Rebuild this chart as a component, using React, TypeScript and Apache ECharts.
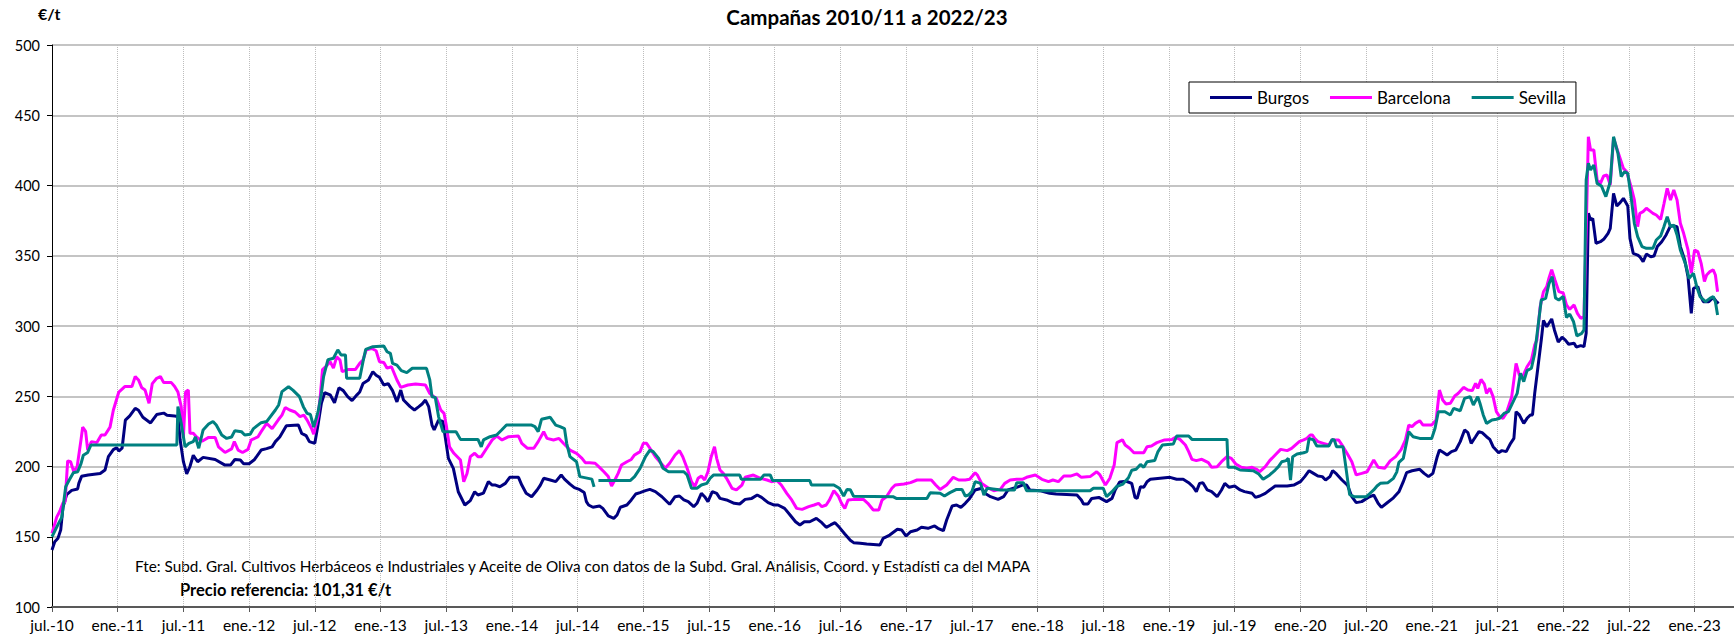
import React, { useEffect, useRef } from "react";
import * as echarts from "echarts";

// x = months since July 2010, y = €/t
const burgos: [number, number][] = [
  [0,140.6],[0.25,146.5],[0.55,149],[0.8,155],[1.0,171],[1.34,180],[1.8,183],[2.34,184],[2.45,188],[2.7,193],[3.3,194],[4.4,195],[4.84,197.5],[5.15,207],[5.6,212],[5.9,213.4],[6.1,211],[6.4,213],[6.7,233],[7.1,236],[7.6,241.4],[7.9,240],[8.3,235],[9.0,231],[9.56,237],[10.2,238],[10.5,236.4],[11.2,236],[11.5,235.5],[11.7,219],[12.0,203.4],[12.3,194.7],[12.6,200],[12.9,208],[13.3,203.4],[13.8,206.5],[14.9,205],[15.8,201],[16.3,201],[16.7,205],[17.2,204.6],[17.5,202],[18.0,202],[18.5,205],[19.1,211.7],[19.6,212.7],[20.1,214],[20.4,217.7],[20.8,221],[21.4,229],[22.5,229.5],[22.8,223.6],[23.2,222],[23.5,217.7],[24.0,216.5],
  [24.3,230],[24.6,245],[24.9,252.5],[25.4,251],[25.8,245.4],[26.2,256],[26.6,254],[27.0,249.7],[27.4,246.9],[27.85,251],[28.1,253],[28.4,259],[28.9,261.6],[29.3,267.5],[29.6,265],[29.9,263.5],[30.3,258],[30.7,259],[31.1,254],[31.5,246],[31.85,254.4],[32.1,247.3],[32.7,242.6],[33.1,240.2],[33.5,242.6],[33.8,244.5],[34.1,247.3],[34.4,242.6],[34.7,229.5],[34.9,226],[35.3,233],[35.7,232],[36.2,205.8],[36.65,198.7],[37.1,182],[37.7,172.6],[38.2,175.7],[38.6,182],[38.9,179.7],[39.4,181],[39.85,189.2],[40.2,186.8],[40.5,186.8],[40.9,185.6],[41.4,188],[41.8,192.3],[42.6,192.3],[42.9,186.8],[43.3,181],[43.8,178.5],[44.3,183.3],[44.6,186.8],[44.9,191.6],[45.5,190.4],[46.0,189.2],[46.5,194],[46.8,191],[47.3,187.5],[47.7,185],[48.2,183.5],[48.6,181.5],
  [48.8,175],[49.0,172.6],[49.4,171],[50.0,171.9],[50.3,170.2],[50.8,164.8],[51.3,163.1],[51.6,165.5],[51.9,171],[52.5,172.6],[52.9,176.2],[53.3,180.4],[53.7,181.4],[54.2,182.8],[54.6,183.7],[55.1,182.1],[55.7,178.5],[56.4,173.1],[56.9,178.5],[57.3,179],[57.7,176.2],[58.1,175],[58.6,171.4],[58.9,173.8],[59.3,180.9],[59.6,178.5],[59.9,175],[60.3,182.1],[60.7,180.9],[61.0,177.3],[61.6,176.2],[62.3,173.8],[62.8,173.3],[63.3,176.6],[63.9,177.3],[64.4,179.7],[64.8,178],[65.4,174.3],[65.9,172.6],[66.3,172.6],[66.9,170.2],[67.4,165.5],[67.9,160.7],[68.3,158.4],[68.7,160.7],[69.2,160.7],[69.8,163.1],[70.3,160],[70.7,156.7],[71.1,158.4],[71.5,160],[71.9,156.7],[72.4,152],[72.9,147.5],[73.2,145.8],[73.8,145.3],[74.4,144.8],[75.6,144.1],
  [75.9,148.9],[76.5,151.2],[77.2,155.3],[77.6,154.8],[78.0,150.5],[78.4,153.6],[79.0,154.8],[79.4,156.7],[80.0,156],[80.6,157.7],[80.9,156],[81.4,154.3],[81.7,161.9],[82.2,171.9],[82.6,172.6],[83.0,170.9],[83.4,173.8],[83.8,177.3],[84.3,183.3],[84.9,184.5],[85.2,180.9],[85.7,178.5],[86.4,176.6],[86.9,178.5],[87.3,183.3],[88.1,185.2],[88.6,186.8],[89.0,186.8],[89.3,183.3],[90.2,182.8],[91.1,180.9],[91.7,180.4],[93.6,179.7],[94.0,176.2],[94.2,173.3],[94.6,173.3],[94.95,177.3],[95.6,178],[96.3,175],[96.8,177.3],
  [97.1,183.5],[97.5,189],[98.1,189.5],[98.6,188],[98.9,178],[99.1,177.3],[99.4,185.6],[99.7,185.2],[100.0,189.2],[100.3,190.9],[101.2,191.6],[102.1,192.3],[102.7,190.9],[103.3,190.9],[103.8,188.5],[104.2,185.6],[104.5,182.1],[104.8,188],[105.1,188.5],[105.5,183.3],[105.9,182.1],[106.4,178.5],[106.8,183.3],[107.1,188],[107.5,185.2],[108.0,186.1],[108.5,183.3],[108.9,182.1],[109.6,180.9],[109.9,178],[110.3,179],[110.8,180.9],[111.2,183.3],[111.7,186.1],[112.8,186.1],[113.4,186.8],[114.0,189.2],[114.4,192.8],[114.8,197],[115.2,195.1],[115.6,193.2],[116.0,192.8],[116.3,190.4],[116.7,192.8],[116.95,197],[117.3,194.7],[117.8,190.4],[118.3,186.8],[118.7,178.5],[119.1,174.3],[119.6,175],[120.2,178],[120.7,179.7],[121.1,173.8],[121.4,170.9],
  [121.9,174],[122.5,177.7],[123.0,182],[123.4,189.2],[123.7,195.6],[124.2,197],[124.9,198],[125.3,195.1],[125.7,192.8],[126.1,195.1],[126.5,207],[126.7,211.7],[127.1,209.8],[127.4,208.2],[127.8,210.6],[128.2,211.7],[128.6,217.7],[129.0,226],[129.3,224.1],[129.6,216.5],[130.0,221.2],[130.3,224.8],[130.6,224.1],[131.0,221.2],[131.3,219.3],[131.6,214.1],[132.1,209.8],[132.4,211.3],[132.8,210.6],[133.2,216.5],[133.5,220],[133.7,239],[134.0,236.7],[134.4,230.7],[134.7,234.3],[135.0,236.7],[135.2,236.7],[135.4,252],[135.7,271],[136.0,290],
  [136.2,304],[136.5,299.5],[136.95,305],[137.2,297.2],[137.55,288.5],[137.9,292],[138.2,290],[138.5,287],[139.0,287.7],[139.2,285],[139.6,286],[139.9,285.3],[140.1,294.8],[140.3,380.2],[140.5,375.4],[140.7,376.6],[141.0,358.8],[141.4,360],[141.7,361.7],[142.1,366],[142.3,369.5],[142.6,394.4],[142.9,385.4],[143.2,387.8],[143.5,390.9],[143.9,385.4],[144.1,362.4],[144.4,351.7],[144.8,350.5],[145.0,349.3],[145.3,345.8],[145.6,351.2],[146.0,349.3],[146.3,349.8],[146.6,356.5],[147.0,360],[147.4,364.8],[147.8,371.2],[148.1,371.2],[148.4,370.7],[148.7,356.5],[149.1,347],[149.4,335.1],[149.7,309],[149.9,326.8],[150.3,328],[150.5,322.1],[150.8,317.3],[151.3,317.3],[151.7,320.4],[152.0,317.3],[152.2,316.1]
];

const barcelona: [number, number][] = [
  [0,152.4],[0.43,164],[0.7,168],[1.0,174],[1.2,175],[1.43,204],[1.7,203.4],[2.0,196],[2.3,200],[2.65,219],[2.8,228],[3.07,225],[3.26,211.7],[3.6,217.7],[4.1,217],[4.5,222.4],[4.84,222.4],[5.3,228],[5.6,240],[6.1,253],[6.67,257],[7.3,257],[7.6,264],[7.9,261.6],[8.2,256],[8.5,254.4],[8.86,245],[9.16,259],[9.56,262.8],[9.9,264],[10.2,259.7],[10.9,259.7],[11.2,257],[11.5,253],[11.8,242.6],[12.0,221],[12.2,253],[12.45,254.4],[12.6,223.6],[12.9,223.6],[13.2,221],[13.7,218],[14.3,220.7],[14.9,220.7],[15.2,214],[15.8,210],[16.4,212.5],[16.65,217.7],[17.0,211.7],[17.4,210],[17.9,212.2],[18.2,219],[18.8,221],[19.1,224.8],[19.6,230.7],[20.1,227],[20.7,233.6],[21.0,236.6],[21.3,242],[21.7,240.2],[22.2,238.8],[22.65,235.5],[23.0,236.6],[23.3,233],[23.7,227],[23.9,223],
  [24.3,236],[24.5,250],[24.7,269],[25.0,271],[25.4,274.6],[25.7,270],[26.0,278],[26.3,275.8],[26.5,267.5],[27.0,269],[27.7,269],[28.1,273.4],[28.4,275.8],[28.7,283],[29.2,284],[29.6,282.4],[29.9,274.6],[30.3,274],[30.6,270],[31.0,271],[31.5,261.6],[31.85,256.3],[32.5,258],[33.2,258.7],[34.1,258],[34.5,252],[34.8,250],[35.1,248.5],[35.5,240.2],[35.8,237.8],[36.0,229.5],[36.3,214],[36.7,209.4],[37.3,204.6],[37.6,189.2],[37.9,195],[38.2,207],[38.6,209.4],[38.9,207],[39.2,207],[39.7,213],[40.2,218.9],[40.6,221.7],[41.1,218.9],[41.7,221.2],[42.6,221.7],[42.9,216.5],[43.4,213],[44.0,213],[44.4,217.7],[44.9,224.8],[45.2,220],[45.8,218.9],[46.3,220],[46.7,216.5],[47.3,211.7],[47.9,209.4],[48.4,205.8],[48.7,202.7],
  [49.1,202.7],[49.6,202.3],[50.0,199.4],[50.4,196.3],[50.8,192.8],[51.1,186.1],[51.4,190.4],[51.7,195.1],[52.0,201],[52.5,203.4],[52.9,205],[53.2,208.2],[53.7,210.6],[54.0,216.5],[54.3,216.5],[54.6,213],[55.1,207],[55.5,203.4],[56.0,198.7],[56.4,202.3],[56.9,208.2],[57.3,211.3],[57.6,207],[58.0,198.7],[58.4,189.2],[58.7,185.6],[59.0,191.6],[59.3,193.2],[59.6,190.4],[59.9,196.3],[60.2,207],[60.5,214.1],[60.7,205.8],[61.0,197.5],[61.3,195.1],[61.6,191.6],[62.1,184.5],[62.5,183.3],[63.0,186.8],[63.3,192.3],[64.05,193.9],[64.7,191.6],[65.3,190.4],[65.7,189.2],[66.2,190],[66.6,186.8],[67.1,180.9],[67.55,176.2],[68.0,170.2],[68.5,169.5],[69.1,171.4],[69.6,172.6],[70.0,173.8],[70.3,171.4],[70.7,172.6],[71.0,176.2],[71.4,182.8],[71.8,179],[72.1,173.8],[72.4,170.2],[72.7,176.2],
  [73.3,176.6],[74.1,176.6],[74.5,173.8],[75.0,169],[75.5,169],[75.8,176.2],[76.2,178.5],[76.7,184.5],[77.0,186.8],[77.8,187.5],[78.4,188.5],[79.0,190.4],[80.3,190.4],[80.7,186.8],[81.1,183.7],[81.7,186.8],[82.3,192.3],[82.8,190.4],[83.4,190.4],[83.8,190.9],[84.3,195.6],[84.5,194],[84.9,188],[85.4,185.2],[86.0,182.8],[86.6,183.7],[87.0,188],[87.5,190.4],[88.1,190.9],[88.6,190.9],[89.0,192.3],[89.8,194],[90.4,190.9],[91.0,189.2],[91.4,190.4],[91.9,189.2],[92.4,193.2],[93.0,193.2],[93.6,194.7],[94.0,192.3],[94.8,192.8],[95.4,196.3],[95.7,194],[96.2,186.8],[96.6,191.6],
  [97.0,201],[97.25,217],[97.75,219],[98.0,215.3],[98.4,213],[98.8,209.8],[99.7,209.8],[100.0,214.1],[100.4,214.6],[100.9,217],[101.6,218.9],[102.3,219.3],[102.6,220.8],[103.0,219.3],[103.5,215.3],[103.8,210.6],[104.1,205.1],[104.5,204.2],[105.0,205.1],[105.6,202.7],[105.9,199.4],[106.4,199.9],[106.8,203.4],[107.3,207],[107.7,205.8],[108.1,201.8],[108.6,199.4],[109.1,198.7],[109.6,199.4],[110.0,198],[110.3,196.3],[110.8,199.9],[111.2,204.2],[111.7,208.2],[112.2,212.2],[112.8,211.3],[113.2,212.9],[113.9,217.7],[114.3,218.9],[114.6,220],[114.9,222.4],[115.1,222.4],[115.3,220],[115.6,217.7],[116.1,216.5],[116.6,215.3],[116.9,218.9],[117.5,218.9],[117.9,214.1],[118.3,208.9],[118.7,203.4],[119.1,194],[119.6,195.1],[120.1,196.3],[120.7,204.6],[121.1,199.4],[121.7,198.7],
  [122.2,204],[122.7,207],[123.2,212],[123.6,218.9],[123.9,229.5],[124.2,228.4],[124.5,230.7],[124.9,232.6],[125.2,229.5],[126.0,229.5],[126.4,233.1],[126.7,254.4],[127.0,247.3],[127.3,244.5],[127.7,245],[128.1,250.2],[128.4,252],[128.9,256.3],[129.3,254.4],[129.7,254],[130.0,259.2],[130.2,255.6],[130.5,262],[130.8,258.7],[131.0,252],[131.3,255.6],[131.6,249.7],[131.9,239],[132.2,235.5],[132.5,234.3],[132.8,237.8],[133.3,249.7],[133.7,273.4],[134.0,265.1],[134.3,264],[134.7,271],[135.1,275.8],[135.4,286.5],[135.6,290],[135.9,313.8],[136.2,324.4],[136.5,328],[136.7,334],[136.95,340],[137.25,332.7],[137.6,324.5],[138.0,323.5],[138.3,315],[138.6,311.9],[139.0,315],[139.3,309],[139.6,305.5],[139.9,306.6],
  [140.1,366],[140.3,434.7],[140.5,425.3],[140.8,425.3],[141.1,403.9],[141.4,401.5],[141.7,406.8],[142.0,407.5],[142.3,400.4],[142.6,433.6],[143.0,424.1],[143.3,417],[143.5,412.2],[143.8,409.8],[144.2,399.2],[144.5,389.7],[144.8,370.7],[145.0,380.2],[145.3,381.4],[145.6,383.8],[146.0,381.4],[146.2,380.2],[146.5,379],[146.9,375.9],[147.2,386.8],[147.5,398],[147.8,389.7],[148.1,396.8],[148.4,389.7],[148.7,373.1],[149.0,366],[149.4,354.1],[149.7,337.5],[150.0,354.1],[150.3,352.9],[150.6,344.6],[150.9,331.6],[151.1,336.3],[151.4,338.7],[151.7,339.9],[151.9,336.3],[152.1,324.4]
];

const sevilla: [number, number | string][] = [
  [0,150],[0.6,159.5],[0.9,164],[1.25,185.6],[1.55,190],[1.95,195.6],[2.35,196.3],[2.65,202],[2.86,208],[3.26,210],[3.56,215.3],[11.4,215.3],[11.5,242.6],[11.8,230.7],[12.15,214],[12.5,216.5],[12.9,217.7],[13.1,221],[13.4,213],[13.8,226],[14.3,230.2],[14.7,232],[15.0,229.5],[15.5,222.4],[15.95,220],[16.4,221],[16.7,225.5],[17.3,224.8],[17.6,222.4],[18.1,223],[18.4,227],[19.1,231.2],[19.6,232],[20.4,240.2],[20.7,243.8],[21.0,253.3],[21.6,256.8],[22.0,254.4],[22.6,249.7],[22.95,242.6],[23.3,237.8],[23.6,237],[23.9,228],
  [24.3,239],[24.6,252],[24.8,264],[25.0,270],[25.2,276],[25.7,277],[26.1,283],[26.4,279.4],[26.8,279.4],[26.9,262.8],[28.1,262.8],[28.4,274.6],[28.65,283.4],[29.3,285.3],[30.3,285.8],[30.6,281.7],[30.9,280.5],[31.1,273.4],[31.5,272.2],[31.9,268.2],[32.4,266.8],[32.9,269.9],[34.2,269.9],[34.5,261.6],[34.7,249.7],[35.0,249.2],[35.3,235.5],[35.7,224.8],[36.9,224.8],[37.3,219.3],[38.9,219.3],[39.2,214],[39.4,218.9],[40.0,221.2],[40.6,222.4],[41.06,226],[41.5,229.5],[43.8,229.5],[44.1,228.4],[44.4,224.8],[44.7,233.6],[45.5,235],[46.0,229.5],[46.4,228.4],[46.8,227],[47.0,216.5],[47.3,207],[47.9,203.4],[48.2,192.8],[49.3,191],[49.5,185.5],[49.7,"-"],
  [49.9,190],[52.8,190],[53.2,192.8],[53.7,198.7],[54.2,207],[54.6,211.7],[54.9,210.6],[55.4,205.8],[55.8,198.7],[56.3,196.3],[57.7,196.3],[58.0,193.9],[58.4,184.5],[58.9,184.5],[59.3,186.8],[59.8,188],[60.1,191.6],[60.4,193.9],[62.8,193.9],[62.95,190.9],[64.7,190.9],[65.0,193.9],[65.6,193.9],[65.8,190],[69.2,190],[69.35,186.8],[71.4,186.8],[71.9,184.5],[72.3,179],[72.6,183.7],[72.9,183.5],[73.2,178.8],
  [76.8,178.5],[77.1,177.3],[79.9,177.3],[80.2,181.4],[81.1,180.9],[81.5,179],[82.0,181.4],[82.6,183.7],[83.1,183.7],[83.4,179],[83.7,179.7],[84.0,182.1],[84.3,189.2],[84.8,188],[85.1,179.7],[85.4,184.5],[86.3,183.7],[86.6,183.3],[87.9,183.3],[88.1,188.5],[88.7,188.5],[89.0,182.8],[94.8,182.8],[95.1,184.5],[96.0,184.5],[96.3,178.5],[96.8,182.1],
  [97.2,185.6],[97.8,187.5],[98.3,192],[98.6,197.3],[99.0,198],[99.4,201.5],[99.7,199.4],[100.0,203.4],[100.7,204.2],[101.0,210.6],[101.4,215.3],[102.4,216],[102.7,221.7],[103.8,221.7],[104.1,219.3],[107.3,219.3],[107.4,199.4],[108.0,199.4],[108.5,197.5],[109.7,197],[110.2,194.7],[110.6,190.9],[111.2,194],[111.7,197.5],[112.0,199.9],[112.3,203.4],[112.7,204.2],[112.9,205.8],[113.1,190.4],[113.3,207],[113.7,208.9],[114.3,209.8],[114.6,210.6],[114.8,220],[115.2,218.9],[115.5,214.6],[116.6,214.6],[116.9,219.3],[117.1,218.9],[117.3,214.1],[117.9,214],[118.5,180],[118.9,178.5],[120.0,178.5],[120.2,179.7],[120.7,183.3],[121.0,186.1],
  [121.3,188],[122.0,188.5],[122.5,191.6],[122.8,196],[123.0,203],[123.4,205.8],[123.9,224.8],[124.3,221.2],[124.9,220],[126.0,220],[126.3,227.2],[126.6,239],[127.2,239],[127.7,236.7],[128.0,241.4],[128.6,239.7],[129.0,248.5],[129.5,249.7],[129.8,243.8],[130.2,249.7],[130.4,245],[130.7,236.7],[131.0,230.7],[131.5,233.1],[131.9,233.6],[132.2,234.3],[132.6,237.8],[133.0,239],[133.5,247.3],[133.8,252],[134.1,266.3],[134.4,260.4],[134.7,268.2],[135.1,269.9],[135.4,280.5],[135.7,299.5],[136.0,318.5],[136.4,319.7],[136.7,330],[137.0,335.1],[137.3,320],[137.6,318.5],[138.0,321],[138.3,306],[138.6,308.5],[138.95,303],[139.25,293],[139.7,294.8],[139.9,297.2],
  [140.1,403.9],[140.3,415.8],[140.5,411],[140.8,414.6],[141.1,401.5],[141.5,399.6],[141.9,392.1],[142.3,402.7],[142.6,434.7],[143.0,422.9],[143.3,406.3],[143.6,409.8],[143.9,408.7],[144.2,392.1],[144.5,373.1],[144.8,363.6],[145.2,356.5],[145.6,355.3],[146.2,355.3],[146.5,361.2],[146.9,364.1],[147.2,370.7],[147.5,377.8],[147.8,370.7],[148.1,371.9],[148.4,364.8],[148.7,354.1],[149.2,343.4],[149.5,333.9],[149.9,337.5],[150.2,328],[150.5,320.9],[151.0,317.3],[151.4,319.7],[151.7,320.9],[151.9,317.3],[152.1,307.8]
];

const tickLabels = [
  "jul.-10","ene.-11","jul.-11","ene.-12","jul.-12","ene.-13","jul.-13","ene.-14","jul.-14","ene.-15","jul.-15","ene.-16","jul.-16",
  "ene.-17","jul.-17","ene.-18","jul.-18","ene.-19","jul.-19","ene.-20","jul.-20","ene.-21","jul.-21","ene.-22","jul.-22","ene.-23"
];

const seriesNames = ["Burgos", "Barcelona", "Sevilla"];
const seriesColors = ["#000080", "#FF00FF", "#008080"];

const titleText = "Campañas 2010/11 a 2022/23";
const unitText = "€/t";
const sourceText = "Fte: Subd. Gral. Cultivos Herbáceos e Industriales y Aceite de Oliva con datos de la Subd. Gral. Análisis, Coord. y Estadísti ca del MAPA";
const refText = "Precio referencia: 101,31 €/t";

const FONT = "Lato, 'Open Sans', sans-serif";

export default function App() {
  const ref = useRef<HTMLDivElement>(null);
  useEffect(() => {
    if (!ref.current) return;
    const chart = echarts.init(ref.current, undefined, { renderer: "svg" });
    const datasets = [burgos, barcelona, sevilla];
    chart.setOption({
      animation: false,
      backgroundColor: "#ffffff",
      title: {
        text: titleText,
        left: "center",
        top: 1,
        textStyle: { fontFamily: FONT, fontWeight: "bold", fontSize: 20.5, color: "#000" },
      },
      legend: {
        data: seriesNames,
        left: 1189,
        top: 82,
        icon: "rect",
        itemWidth: 42,
        itemHeight: 3,
        itemGap: 21,
        padding: [7, 10, 7, 21],
        borderColor: "#000",
        borderWidth: 1,
        backgroundColor: "#fff",
        textStyle: { fontFamily: FONT, fontSize: 17, color: "#000", lineHeight: 17 },
      },
      grid: { left: 52, right: 0, top: 45, bottom: 36, containLabel: false },
      xAxis: {
        type: "value",
        min: 0,
        max: 153.6,
        interval: 6,
        axisLine: { show: true, onZero: false, lineStyle: { color: "#595959", width: 2 } },
        axisTick: { show: true, length: 5, lineStyle: { color: "#595959" } },
        axisLabel: {
          fontFamily: FONT,
          fontSize: 15.5,
          color: "#000",
          margin: 10,
          showMaxLabel: false,
          formatter: (v: number) => {
            const i = Math.round(v / 6);
            return Math.abs(v - i * 6) < 1e-6 && tickLabels[i] ? tickLabels[i] : "";
          },
        },
        splitLine: { show: true, lineStyle: { type: "dotted", color: "#bdbdbd", width: 1 } },
      },
      yAxis: {
        type: "value",
        min: 100,
        max: 500,
        interval: 50,
        axisLine: { show: true, lineStyle: { color: "#000", width: 1 } },
        axisTick: { show: true, length: 5, lineStyle: { color: "#000" } },
        axisLabel: { fontFamily: FONT, fontSize: 14.5, color: "#000", margin: 12 },
        splitLine: { show: true, lineStyle: { color: "#c4c4c4", width: 2 } },
      },
      graphic: [
        { type: "text", left: 38, top: 5, style: { text: unitText, font: `bold 16px ${FONT}`, fill: "#000" } },
        { type: "text", left: 135, top: 558, style: { text: sourceText, font: `15.3px ${FONT}`, fill: "#000" } },
        { type: "text", left: 180, top: 581, style: { text: refText, font: `bold 16.5px ${FONT}`, fill: "#000" } },
      ],
      series: datasets.map((d, i) => ({
        name: seriesNames[i],
        type: "line",
        data: d,
        symbol: "none",
        showSymbol: false,
        connectNulls: false,
        lineStyle: { color: seriesColors[i], width: 3 },
        itemStyle: { color: seriesColors[i] },
      })),
    });
    return () => chart.dispose();
  }, []);
  return (
    <div
      ref={ref}
      style={{ position: "fixed", left: 0, top: 0, width: 1734, height: 643 }}
    />
  );
}
